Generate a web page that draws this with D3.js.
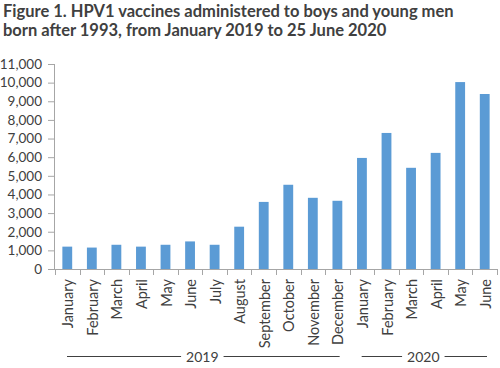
<!DOCTYPE html>
<html>
<head>
<meta charset="utf-8" />
<style>
  html, body { margin: 0; padding: 0; background: #fff; }
  text { font-family: Lato, "Open Sans", sans-serif; fill: #404040; }
  .title { font-weight: bold; font-size: 16.5px; }
  .axis path, .axis line { stroke: #a6a6a6; }
  .axis text { font-size: 13.5px; fill: #404040; }
  .axis text.ml { font-size: 14.5px; }
  .bar { fill: #5b9bd5; }
  .grp line { stroke: #404040; stroke-width: 1px; }
</style>
</head>
<body>
<div id="vis"></div>
<script src="https://d3js.org/d3.v7.min.js"></script>
<script>
// data
var months = ["January", "February", "March", "April", "May", "June", "July", "August",
  "September", "October", "November", "December",
  "January", "February", "March", "April", "May", "June"];
var years = ["2019", "2019", "2019", "2019", "2019", "2019", "2019", "2019", "2019", "2019", "2019", "2019",
  "2020", "2020", "2020", "2020", "2020", "2020"];
var doses = [1200, 1150, 1300, 1200, 1300, 1480, 1300, 2270,
  3600, 4520, 3820, 3660,
  5960, 7300, 5430, 6230, 10030, 9390];
var yTicks = d3.range(0, 11001, 1000);
var titleLines = ["Figure 1. HPV1 vaccines administered to boys and young men",
  "born after 1993, from January 2019 to 25 June 2020"];

(function() {
  var W = 500, H = 368;
  var left = 55, right = 497, top = 64, bottom = 269;

  var svg = d3.select("#vis").append("svg").attr("width", W).attr("height", H);

  // title
  svg.append("g").selectAll("text")
      .data(titleLines)
    .enter().append("text")
      .attr("class", "title")
      .attr("x", 3)
      .attr("y", function(d, i) { return 17 + i * 19; })
      .text(function(d) { return d; });

  var keys = d3.range(months.length);

  var x = d3.scaleBand().domain(keys).range([left, right]).paddingInner(0.6).paddingOuter(0.3);
  var xb = d3.scaleBand().domain(keys).range([left, right]);
  var y = d3.scaleLinear().domain([0, 11000]).range([bottom, top]);

  // y axis
  var yAxis = svg.append("g").attr("class", "axis")
      .attr("transform", "translate(" + left + ",0)")
      .call(d3.axisLeft(y).tickValues(yTicks).tickSize(7).tickPadding(6).tickFormat(d3.format(",")));
  yAxis.select(".domain").attr("d", "M-0.5," + top + "V" + bottom);
  yAxis.selectAll(".tick line").attr("x1", -7).attr("x2", 0);

  // bars
  svg.append("g").selectAll("rect")
      .data(doses)
    .enter().append("rect")
      .attr("class", "bar")
      .attr("x", function(d, i) { return x(i); })
      .attr("width", x.bandwidth())
      .attr("y", function(d) { return y(d); })
      .attr("height", function(d) { return bottom - y(d); });

  // x axis with ticks at band boundaries
  var xa = svg.append("g").attr("class", "axis");
  xa.append("line")
      .attr("x1", left).attr("x2", right)
      .attr("y1", bottom + 0.5).attr("y2", bottom + 0.5);
  xa.selectAll(".bt")
      .data(d3.range(months.length + 1))
    .enter().append("line")
      .attr("class", "bt")
      .attr("x1", function(i) { return Math.round(left + i * xb.bandwidth()) + 0.5; })
      .attr("x2", function(i) { return Math.round(left + i * xb.bandwidth()) + 0.5; })
      .attr("y1", bottom).attr("y2", bottom + 6);

  xa.selectAll(".ml")
      .data(months)
    .enter().append("text")
      .attr("class", "ml")
      .attr("text-anchor", "end")
      .attr("dy", "0.35em")
      .attr("transform", function(d, i) {
        return "translate(" + (xb(i) + xb.bandwidth() / 2 + 1) + "," + (bottom + 10) + ") rotate(-90)";
      })
      .text(function(d) { return d; });

  // year groups
  var groups = d3.groups(keys, function(i) { return years[i]; }).map(function(g) {
    return { year: g[0], x0: xb(g[1][0]), x1: xb(g[1][g[1].length - 1]) + xb.bandwidth() };
  });
  var grp = svg.append("g").attr("class", "grp").selectAll("g")
      .data(groups)
    .enter().append("g");
  var yy = 356.5;
  grp.each(function(d) {
    var g = d3.select(this);
    var cx = (d.x0 + d.x1) / 2;
    var t = g.append("text").attr("class", "axis")
        .attr("x", cx).attr("y", yy + 5)
        .attr("text-anchor", "middle")
        .style("font-size", "14px")
        .text(d.year);
    var half = t.node().getComputedTextLength() / 2 + 5;
    g.append("line").attr("x1", d.x0 + 12).attr("x2", cx - half).attr("y1", yy).attr("y2", yy);
    g.append("line").attr("x1", cx + half).attr("x2", d.x1 - 10).attr("y1", yy).attr("y2", yy);
  });
})();
</script>
</body>
</html>
